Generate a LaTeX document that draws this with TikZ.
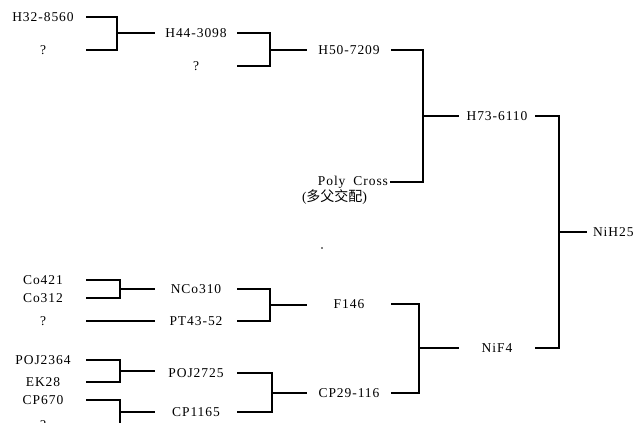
\documentclass[tikz,border=0pt]{standalone}
\usepackage{fontspec}
\newfontfamily\labelfont[LetterSpace=7]{Liberation Serif}
\newfontfamily\cjkfont{Noto Sans CJK SC}
\usetikzlibrary{positioning}
\tikzstyle{wire}   = [line width=1.2pt, black]
\tikzstyle{strain} = [font=\labelfont\fontsize{13.5}{15}\selectfont, inner sep=0pt, outer sep=0pt, minimum height=12pt]
\tikzstyle{colA}   = [strain, minimum width=86pt]
\tikzstyle{colB}   = [strain, minimum width=82pt]
\tikzstyle{colC}   = [strain, minimum width=84pt]
\tikzstyle{colD}   = [strain, minimum width=76pt]

\begin{document}
\begin{tikzpicture}[x=1pt,y=-1pt]
\useasboundingbox (0,0) rectangle (635,423);
\clip (0,0) rectangle (635,423);

% upper tree
\node[colA] (H32)   at (43,17)  {H32-8560};
\node[colA] (Q1)    at (43,50)  {?};
\node[colB] (H44)   at (196,33) {H44-3098};
\node[colB] (Q2)    at (196,66) {?};
\node[colC] (H50)   at (349,50) {H50-7209};
\node[strain, anchor=east, inner xsep=2pt] (PC) at (390,182) {Poly\hspace{8pt}Cross};
\node[strain, anchor=north west] (PCzh) at (302,190) {(\cjkfont\fontsize{14}{15}\selectfont 多父交配\labelfont)};
\node[colD] (H73)   at (497,116) {H73-6110};
\node[strain, anchor=west, inner xsep=6pt] (NiH25) at (587,232) {NiH25};

\coordinate (J1) at (117,33);
\coordinate (J2) at (270,50);
\coordinate (J3) at (423,116);
\coordinate (J4) at (559,232);

\draw[wire] (H32.east) -| (J1) |- (Q1.east);
\draw[wire] (J1) -- (J1 -| H44.west);
\draw[wire] (H44.east) -| (J2) |- (Q2.east);
\draw[wire] (J2) -- (J2 -| H50.west);
\draw[wire] (H50.east) -| (J3) |- (PC.east);
\draw[wire] (J3) -- (J3 -| H73.west);

% lower tree
\node[colA] (Co421)  at (43,280)  {Co421};
\node[colA] (Co312)  at (43,298)  {Co312};
\node[colA] (Q3)     at (43,321)  {?};
\node[colA] (POJ64)  at (43,360)  {POJ2364};
\node[colA] (EK28)   at (43,382)  {EK28};
\node[colA] (CP670)  at (43,400)  {CP670};
\node[colA] (Q4)     at (43,425)  {?};
\node[colB] (NCo310) at (196,289) {NCo310};
\node[colB] (PT43)   at (196,321) {PT43-52};
\node[colB] (POJ25)  at (196,373) {POJ2725};
\node[colB] (CP1165) at (196,412) {CP1165};
\node[colC] (F146)   at (349,304) {F146};
\node[colC] (CP29)   at (349,393) {CP29-116};
\node[colD] (NiF4)   at (497,348) {NiF4};

\coordinate (K1) at (120,289);
\coordinate (K2) at (120,371);
\coordinate (K3) at (120,412);
\coordinate (K4) at (270,305);
\coordinate (K5) at (272,393);
\coordinate (K6) at (419,348);

\draw[wire] (Co421.east) -| (K1) |- (Co312.east);
\draw[wire] (K1) -- (K1 -| NCo310.west);
\draw[wire] (Q3.east) -- (PT43.west);
\draw[wire] (POJ64.east) -| (K2) |- (EK28.east);
\draw[wire] (K2) -- (K2 -| POJ25.west);
\draw[wire] (CP670.east) -| (K3) |- (Q4.east);
\draw[wire] (K3) -- (K3 -| CP1165.west);
\draw[wire] (NCo310.east) -| (K4) |- (PT43.east);
\draw[wire] (K4) -- (K4 -| F146.west);
\draw[wire] (POJ25.east) -| (K5) |- (CP1165.east);
\draw[wire] (K5) -- (K5 -| CP29.west);
\draw[wire] (F146.east) -| (K6) |- (CP29.east);
\draw[wire] (K6) -- (K6 -| NiF4.west);

% root
\draw[wire] (H73.east) -| (J4) |- (NiF4.east);
\draw[wire] (J4) -- (NiH25.west);

\fill (322,248) circle (0.9pt);

\end{tikzpicture}
\end{document}
